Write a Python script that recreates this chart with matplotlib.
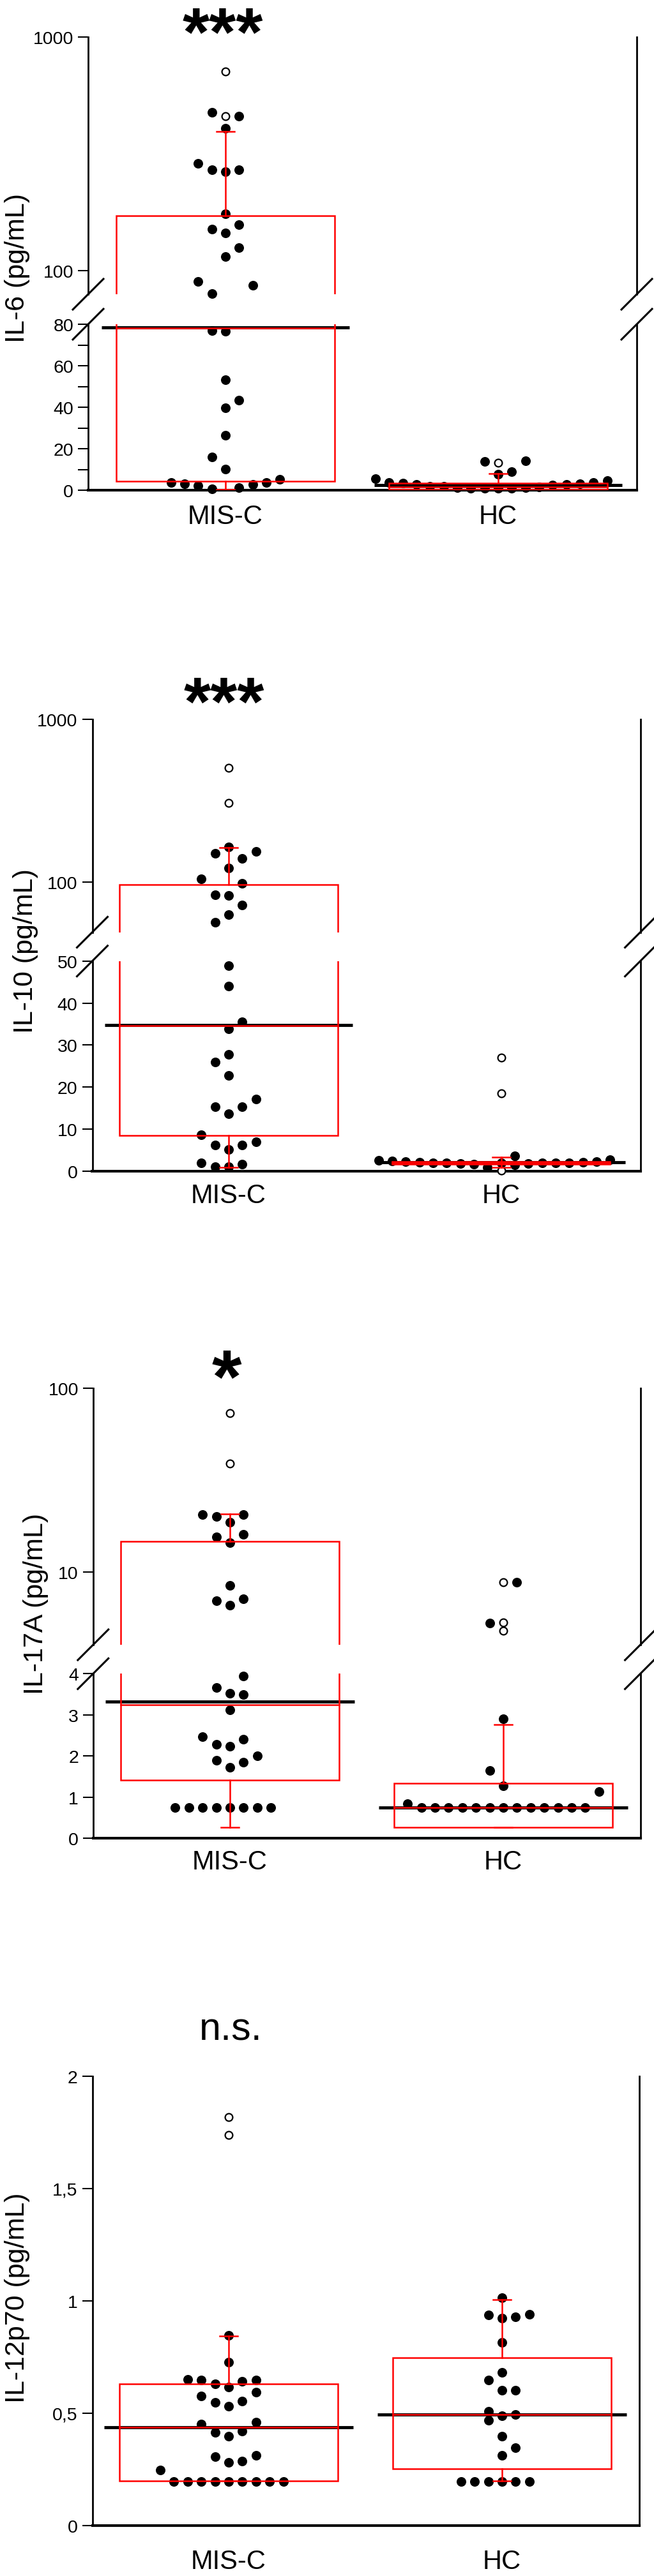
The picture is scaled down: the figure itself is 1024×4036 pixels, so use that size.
import matplotlib
matplotlib.use('Agg')
import matplotlib.pyplot as plt
from matplotlib.lines import Line2D
from matplotlib.patches import Rectangle
from matplotlib.ticker import NullLocator, FixedLocator
import numpy as np

plt.rcParams['font.family'] = ['Liberation Sans', 'DejaVu Sans']

groups = ['MIS-C', 'HC']

# ---- IL-6 ----
il6_mis = [477, 459, 408, 288, 270, 266, 270, 176, 158, 151, 145, 126, 115, 90, 87, 80,
           76.9, 76.5, 53.3, 43.3, 39.7, 26.5, 16.0, 10.2, 3.6, 3.1, 2.2, 0.6, 1.1, 2.7, 3.6, 5.2]
il6_mis_slot = [-1, 1, 0, -2, -1, 0, 1, 0, 1, -1, 0, 1, 0, -2, 2, -1,
                -1, 0, 0, 1, 0, 0, -1, 0, -4, -3, -2, -1, 1, 2, 3, 4]
il6_mis_out = [713, 459]
il6_hc = [5.6, 3.6, 3.3, 2.8, 1.8, 1.8, 1.2, 1.0, 1.0, 0.8, 1.0, 1.2, 1.5, 2.4, 2.8, 3.0, 3.6, 4.6,
          13.9, 14.3, 9.0, 7.7]
il6_hc_slot = [-9, -8, -7, -6, -5, -4, -3, -2, -1, 0, 1, 2, 3, 4, 5, 6, 7, 8,
               -1, 2, 1, 0]
il6_hc_out = [13.1]
# q1, q3, median(black), median(red), whisker low, whisker high
il6_box = [[4.2, 172, 78.5, 78.2, 0.2, 395], [0.2, 3.5, 2.4, 1.4, 0.2, 8.0]]

# ---- IL-10 ----
il10_mis = [165, 150, 155, 140, 123, 105, 99, 83.5, 82.8, 72.4, 63.7, 56.9,
            48.9, 44.0, 35.5, 33.9, 27.8, 25.9, 22.8, 17.2, 15.3, 15.3, 13.6, 8.7, 6.3, 5.2, 6.2, 7.0,
            2.0, 1.1, 1.1, 1.6]
il10_mis_slot = [0, -1, 2, 1, 0, -2, 1, -1, 0, 1, 0, -1,
                 0, 0, 1, 0, 0, -1, 0, 2, -1, 1, 0, -2, -1, 0, 1, 2,
                 -2, -1, 0, 1]
il10_mis_out = [505, 308]
il10_hc = [2.6, 2.5, 2.3, 2.1, 1.9, 1.9, 1.8, 1.6, 0.9, 2.0, 3.6, 1.5, 1.8, 1.9, 2.0, 2.0, 2.1, 2.3, 2.8]
il10_hc_slot = [-9, -8, -7, -6, -5, -4, -3, -2, -1, 0, 1, 1, 2, 3, 4, 5, 6, 7, 8]
il10_hc_out = [27.1, 18.5, 0.1]
il10_box = [[8.5, 97, 34.8, 34.6, 0.86, 163], [1.6, 2.3, 2.2, 2.0, 0.9, 3.4]]

# ---- IL-17A ----
il17_mis = [20.5, 20.1, 20.5, 18.7, 15.6, 16.1, 14.5, 8.5, 7.0, 7.2, 6.65,
            3.95, 3.67, 3.53, 3.49, 3.12, 2.47, 2.28, 2.40, 2.23, 2.01, 1.89, 1.85, 1.73,
            0.74, 0.74, 0.74, 0.74, 0.74, 0.74, 0.74, 0.74]
il17_mis_slot = [-2, -1, 1, 0, -1, 1, 0, 0, -1, 1, 0,
                 1, -1, 0, 1, 0, -2, -1, 1, 0, 2, -1, 1, 0,
                 -4, -3, -2, -1, 0, 1, 2, 3]
il17_mis_out = [73, 39]
il17_hc = [8.8, 5.3, 2.90, 1.65, 1.28, 1.14, 0.84,
           0.74, 0.74, 0.74, 0.74, 0.74, 0.74, 0.74, 0.74, 0.74, 0.74, 0.74, 0.74, 0.74]
il17_hc_slot = [1, -1, 0, -1, 0, 7, -7,
                -6, -5, -4, -3, -2, -1, 0, 1, 2, 3, 4, 5, 6]
il17_hc_out = [8.8, 5.35, 4.8]
il17_box = [[1.41, 14.7, 3.32, 3.25, 0.27, 20.7], [0.27, 1.34, 0.74, 0.74, 0.27, 2.77]]

# ---- IL-12p70 ----
il12_mis = [0.846, 0.727, 0.649, 0.647, 0.630, 0.616, 0.642, 0.647, 0.576, 0.547, 0.530, 0.555, 0.595,
            0.451, 0.415, 0.399, 0.420, 0.459, 0.306, 0.282, 0.287, 0.311, 0.247,
            0.197, 0.197, 0.197, 0.197, 0.197, 0.197, 0.197, 0.197, 0.197]
il12_mis_slot = [0, 0, -3, -2, -1, 0, 1, 2, -2, -1, 0, 1, 2,
                 -2, -1, 0, 1, 2, -1, 0, 1, 2, -5,
                 -4, -3, -2, -1, 0, 1, 2, 3, 4]
il12_mis_out = [1.817, 1.737]
il12_hc = [1.013, 0.937, 0.923, 0.93, 0.939, 0.815, 0.683, 0.647, 0.601, 0.602,
           0.507, 0.488, 0.495, 0.469, 0.398, 0.346, 0.311,
           0.197, 0.197, 0.197, 0.197, 0.197, 0.197]
il12_hc_slot = [0, -1, 0, 1, 2, 0, 0, -1, 0, 1,
                -1, 0, 1, -1, 0, 1, 0,
                -3, -2, -1, 0, 1, 2]
il12_hc_out = []
il12_box = [[0.200, 0.630, 0.436, 0.436, 0.200, 0.843], [0.254, 0.746, 0.495, 0.495, 0.200, 1.005]]

W, H = 1024, 4037
fig = plt.figure(figsize=(W / 100, H / 100), dpi=100)


def px_axes(left, right, top, bottom):
    return fig.add_axes([left / W, 1 - bottom / H, (right - left) / W, (bottom - top) / H])


def slash(cx, cy):
    fig.add_artist(Line2D([(cx - 24) / W, (cx + 24) / W], [1 - (cy + 24) / H, 1 - (cy - 24) / H],
                          color='black', lw=2.2))


def style_axis(ax, xlim, show_bottom, xpad=15):
    ax.set_xlim(*xlim)
    ax.spines['top'].set_visible(False)
    ax.spines['bottom'].set_visible(show_bottom)
    for s in ['left', 'right']:
        ax.spines[s].set_linewidth(2.0)
    ax.spines['bottom'].set_linewidth(3.0)
    ax.tick_params(axis='y', which='both', direction='out', length=11.5, width=1.5,
                   pad=5, labelsize=20.5, right=False)
    if show_bottom:
        ax.set_xticks([0, 1])
        ax.set_xticklabels(groups, fontsize=30)
        ax.tick_params(axis='x', length=0, pad=xpad)
    else:
        ax.set_xticks([])


def draw_group(ax, x, vals, slots, outs, st, keep):
    q1, q3, med, red, wlo, whi = st
    ax.add_patch(Rectangle((x - 0.4, q1), 0.8, q3 - q1, fill=False, ec='red', lw=1.8, zorder=4))
    ax.plot([x - 0.455, x + 0.455], [med, med], color='black', lw=3.5, zorder=2,
            solid_capstyle='butt')
    ax.plot([x - 0.4, x + 0.4], [red, red], color='red', lw=1.8, zorder=4)
    ax.plot([x, x], [q3, whi], color='red', lw=1.8, zorder=4)
    ax.plot([x, x], [wlo, q1], color='red', lw=1.8, zorder=4)
    for w in (wlo, whi):
        ax.plot([x - 0.033, x + 0.033], [w, w], color='red', lw=1.8, zorder=4)
    v = np.array(vals, dtype=float)
    s = np.array(slots, dtype=float)
    m = keep(v)
    ax.plot(x + 0.05 * s[m], v[m], 'o', ms=9.8, color='black', ls='none', zorder=3,
            clip_on=False)
    o = np.array(outs, dtype=float)
    if len(o):
        mo = keep(o)
        ax.plot(np.full(mo.sum(), x), o[mo], 'o', ms=8.5, mfc='white', mec='black', mew=1.6,
                ls='none', zorder=3, clip_on=False)


panels = [
    dict(data=[(il6_mis, il6_mis_slot, il6_mis_out), (il6_hc, il6_hc_slot, il6_hc_out)], box=il6_box,
         L=138, R=997, c0=353, c1=780, brk=79, up=(59, 462, 79.5, 1000), lo=(509, 769, 0, 80),
         lticks=[0, 20, 40, 60, 80], lminor=[10, 30, 50, 70], uticks=[100, 1000],
         ylabel='IL-6 (pg/mL)', ylx=27, yly=420, sig='***', sx=349, sy=87, ssize=78, sbold=True,
         xpad=15),
    dict(data=[(il10_mis, il10_mis_slot, il10_mis_out), (il10_hc, il10_hc_slot, il10_hc_out)],
         box=il10_box, L=144.5, R=1002.6, c0=358, c1=784.6, brk=50,
         up=(1128, 1461.5, 49.5, 1000), lo=(1506.7, 1836, 0, 50),
         lticks=[0, 10, 20, 30, 40, 50], lminor=[], uticks=[100, 1000],
         ylabel='IL-10 (pg/mL)', ylx=40, yly=1490, sig='***', sx=351, sy=1136, ssize=78, sbold=True,
         xpad=13),
    dict(data=[(il17_mis, il17_mis_slot, il17_mis_out), (il17_hc, il17_hc_slot, il17_hc_out)],
         box=il17_box, L=145.8, R=1002.6, c0=360, c1=788, brk=4,
         up=(2175.6, 2578, 4.04, 100), lo=(2623.3, 2881, 0, 4),
         lticks=[0, 1, 2, 3, 4], lminor=[], uticks=[10, 100],
         ylabel='IL-17A (pg/mL)', ylx=56, yly=2513, sig='*', sx=354.5, sy=2198, ssize=86, sbold=True,
         xpad=12),
    dict(data=[(il12_mis, il12_mis_slot, il12_mis_out), (il12_hc, il12_hc_slot, il12_hc_out)],
         box=il12_box, L=144.5, R=1001.3, c0=358, c1=786, brk=None,
         up=None, lo=(3253.8, 3958, 0, 2),
         lticks=[0, 0.5, 1, 1.5, 2], lminor=[], uticks=[],
         ylabel='IL-12p70 (pg/mL)', ylx=27, yly=3600, sig='n.s.', sx=361, sy=3197, ssize=44, sbold=False,
         xpad=26),
]


def fmt(v):
    s = ('%g' % v)
    return s.replace('.', ',')


for p in panels:
    span = p['c1'] - p['c0']
    xlim = ((p['L'] - p['c0']) / span, (p['R'] - p['c0']) / span)
    brk = p['brk']

    lo_top, lo_bot, lo_min, lo_max = p['lo']
    axl = px_axes(p['L'], p['R'], lo_top, lo_bot)
    axl.set_ylim(lo_min, lo_max)
    style_axis(axl, xlim, True, p['xpad'])
    axl.yaxis.set_major_locator(FixedLocator(p['lticks']))
    axl.set_yticklabels([fmt(t) for t in p['lticks']])
    if p['lminor']:
        axl.yaxis.set_minor_locator(FixedLocator(p['lminor']))
    keep_lo = (lambda v: v < brk) if brk is not None else (lambda v: v == v)
    for i, (vals, slots, outs) in enumerate(p['data']):
        draw_group(axl, i, vals, slots, outs, p['box'][i], keep_lo)

    if p['up'] is not None:
        up_top, up_bot, up_min, up_max = p['up']
        axu = px_axes(p['L'], p['R'], up_top, up_bot)
        axu.set_yscale('log')
        axu.set_ylim(up_min, up_max)
        style_axis(axu, xlim, False)
        axu.yaxis.set_major_locator(FixedLocator(p['uticks']))
        axu.yaxis.set_minor_locator(NullLocator())
        axu.set_yticklabels([fmt(t) for t in p['uticks']])
        for i, (vals, slots, outs) in enumerate(p['data']):
            draw_group(axu, i, vals, slots, outs, p['box'][i], lambda v: v >= brk)
        for sx_ in (p['L'], p['R']):
            slash(sx_, up_bot)
            slash(sx_, lo_top)

    fig.text(p['ylx'] / W, 1 - p['yly'] / H, p['ylabel'], rotation=90, ha='center', va='center',
             fontsize=31)
    fig.text(p['sx'] / W, 1 - p['sy'] / H, p['sig'], ha='center', va='baseline',
             fontsize=p['ssize'], fontweight='bold' if p['sbold'] else 'normal')

fig.savefig('out.png', dpi=100, facecolor='white')
